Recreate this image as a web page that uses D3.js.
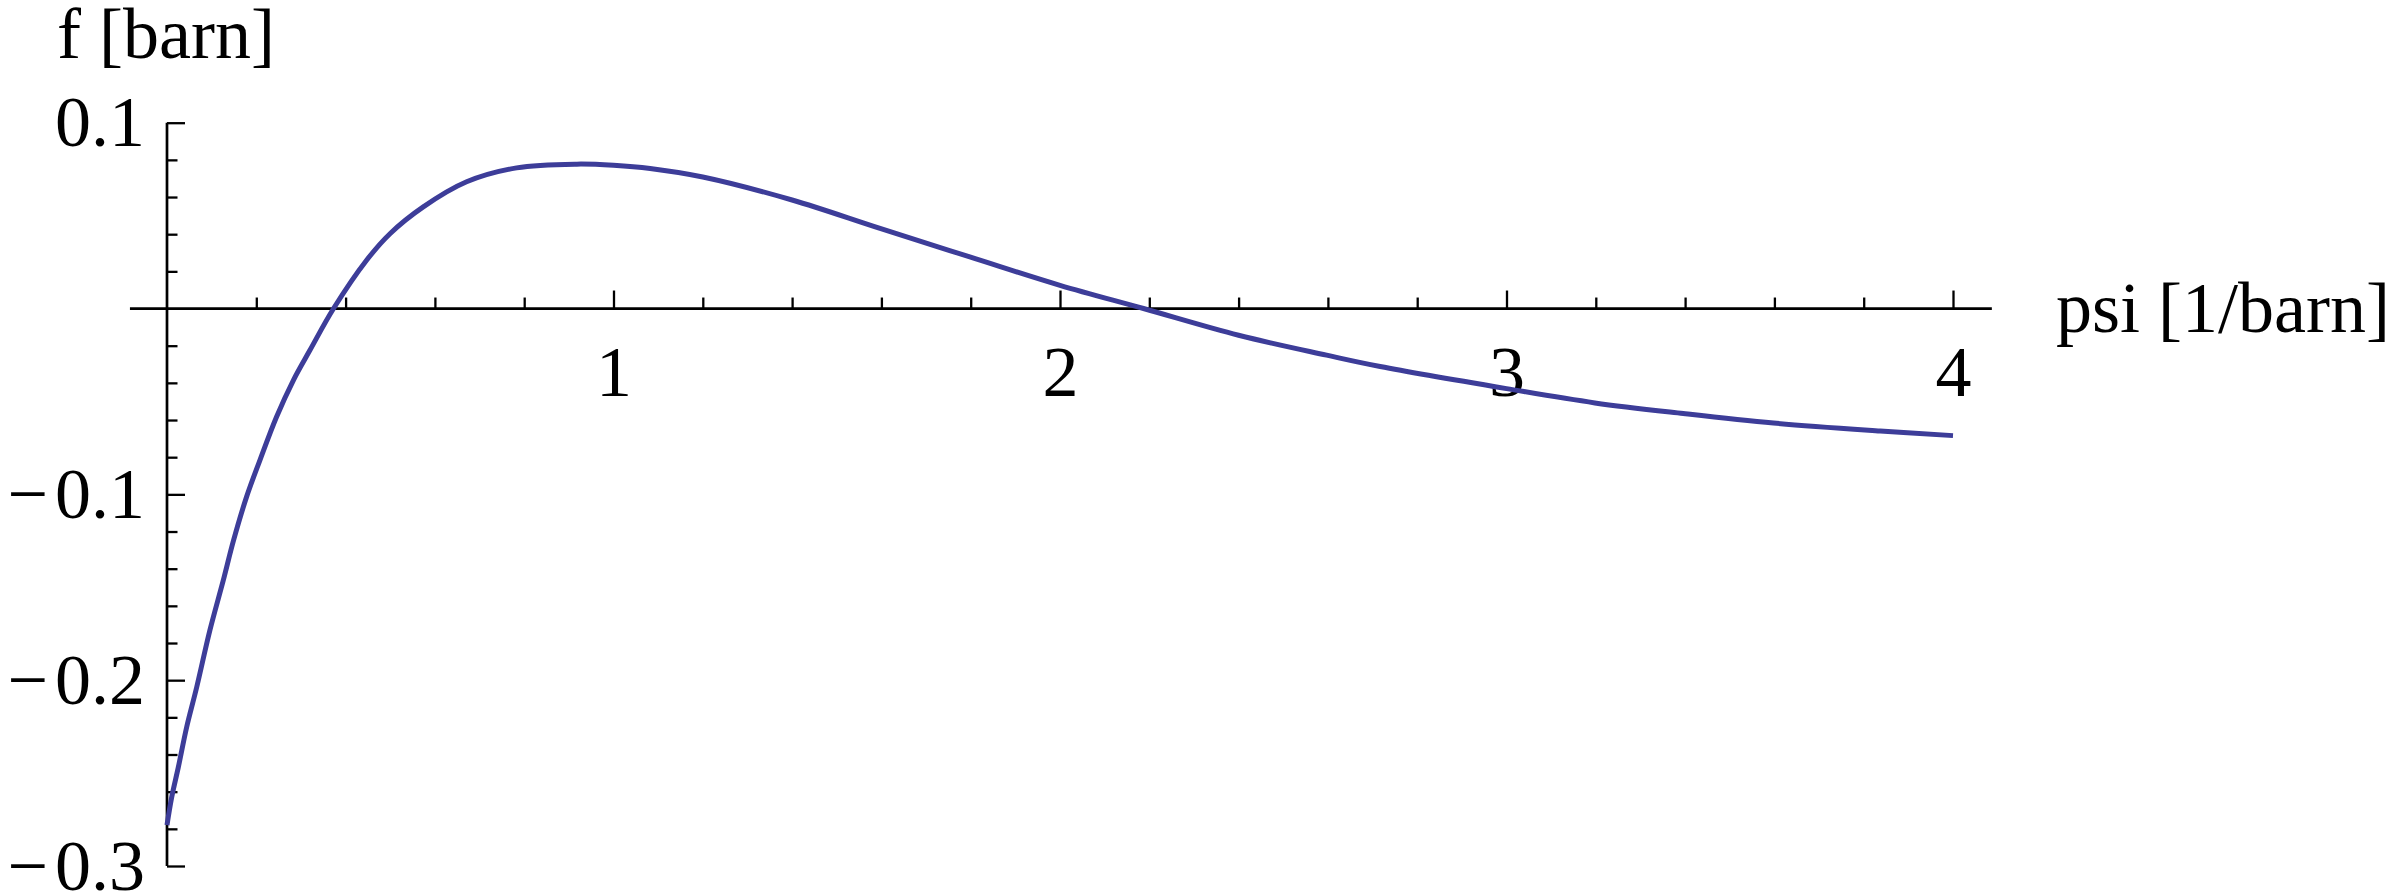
<!DOCTYPE html>
<html>
<head>
<meta charset="utf-8">
<script src="https://cdn.jsdelivr.net/npm/d3@7"></script>
<style>
    body { margin: 0; background: #fff; }
    svg text { font-family: "Liberation Serif", "Times New Roman", serif; font-size: 72px; fill: #000; }
    .axis-line { stroke: #000; stroke-width: 2.7; }
    .tick line { stroke: #000; stroke-width: 2.3; }
    .curve { fill: none; stroke: #3d3d99; stroke-width: 5; stroke-linejoin: round; }
</style>
</head>
<body>
<svg id="chart" width="2392" height="895"></svg>
<script>
    // values: psi [1/barn] vs f [barn]
    const psi = [0, 0.0105, 0.0254, 0.044, 0.0665, 0.096, 0.126, 0.149, 0.178, 0.208,
                 0.245, 0.283, 0.320, 0.373, 0.447, 0.5, 0.574, 0.671, 0.783, 0.918,
                 1.0, 1.082, 1.2, 1.4, 1.597, 1.798, 2.0, 2.187, 2.4, 2.597,
                 2.717, 3.0, 3.198, 3.396, 3.598, 3.837, 4.0];
    const f = [-0.278, -0.263, -0.2468, -0.2253, -0.2038, -0.1732, -0.1463, -0.1248, -0.1015, -0.0817,
               -0.0585, -0.0386, -0.0225, 0.0, 0.026, 0.0404, 0.0547, 0.0682, 0.0757, 0.0777,
               0.0771, 0.0754, 0.0708, 0.0584, 0.0431, 0.0278, 0.0125, 0.0, -0.0144, -0.0251,
               -0.0312, -0.0431, -0.0508, -0.0565, -0.0616, -0.0659, -0.0684];

    const xMajor = [1, 2, 3, 4];
    const xMinor = [0.2, 0.4, 0.6, 0.8, 1.2, 1.4, 1.6, 1.8, 2.2, 2.4, 2.6, 2.8, 3.2, 3.4, 3.6, 3.8];
    const yMajor = [-0.3, -0.2, -0.1, 0.1];
    const yMinor = [-0.28, -0.26, -0.24, -0.22, -0.18, -0.16, -0.14, -0.12,
                    -0.08, -0.06, -0.04, -0.02, 0.02, 0.04, 0.06, 0.08];

    const xTitle = "psi [1/barn]";
    const yTitle = "f [barn]";

    const svg = d3.select("#chart");

    let xScale = d3.scaleLinear().domain([0, 4]).range([167, 1953]);
    let yScale = d3.scaleLinear().domain([-0.3, 0.1]).range([866, 122.7]);

    // axis lines (x runs a bit past the data range, like the original)
    svg.append("line").attr("class", "axis-line")
        .attr("x1", xScale(-0.083)).attr("x2", xScale(4.087))
        .attr("y1", yScale(0)).attr("y2", yScale(0));
    svg.append("line").attr("class", "axis-line")
        .attr("x1", xScale(0)).attr("x2", xScale(0))
        .attr("y1", yScale(0.1)).attr("y2", yScale(-0.3));

    // x ticks point up, labels sit under the axis
    let xg = svg.append("g").attr("transform", "translate(0," + yScale(0) + ")");
    xg.append("g")
        .call(d3.axisBottom(xScale).tickValues(xMinor).tickSize(-11).tickFormat(""));
    xg.append("g")
        .call(d3.axisBottom(xScale).tickValues(xMajor).tickSize(-18).tickPadding(36.6).tickFormat(d3.format("d")));

    // y ticks point right, labels on the left
    let yg = svg.append("g").attr("transform", "translate(" + xScale(0) + ",0)");
    yg.append("g")
        .call(d3.axisLeft(yScale).tickValues(yMinor).tickSize(-10.5).tickFormat(""));
    let yMajorG = yg.append("g")
        .call(d3.axisLeft(yScale).tickValues(yMajor).tickSize(-18).tickPadding(22).tickFormat(d3.format(".1f")));

    svg.selectAll(".domain").remove();
    svg.selectAll(".tick text").attr("font-size", null).attr("font-family", null);

    // mathematica leaves a little gap after the minus sign
    yMajorG.selectAll(".tick text").each(function(d) {
        if (d >= 0) { return; }
        let t = d3.select(this).text("");
        t.append("tspan").text("\u2212");
        t.append("tspan").attr("dx", 7).text(d3.format(".1f")(-d));
    });

    // curve
    let line = d3.line()
        .x(function(d, i) { return xScale(psi[i]); })
        .y(function(d) { return yScale(d); })
        .curve(d3.curveCatmullRom.alpha(0.5));
    svg.append("path").attr("class", "curve").attr("d", line(f));

    // axis titles
    svg.append("text").attr("x", 2056).attr("y", 332).text(xTitle);
    svg.append("text").attr("x", 57).attr("y", 58).text(yTitle);
</script>
</body>
</html>
